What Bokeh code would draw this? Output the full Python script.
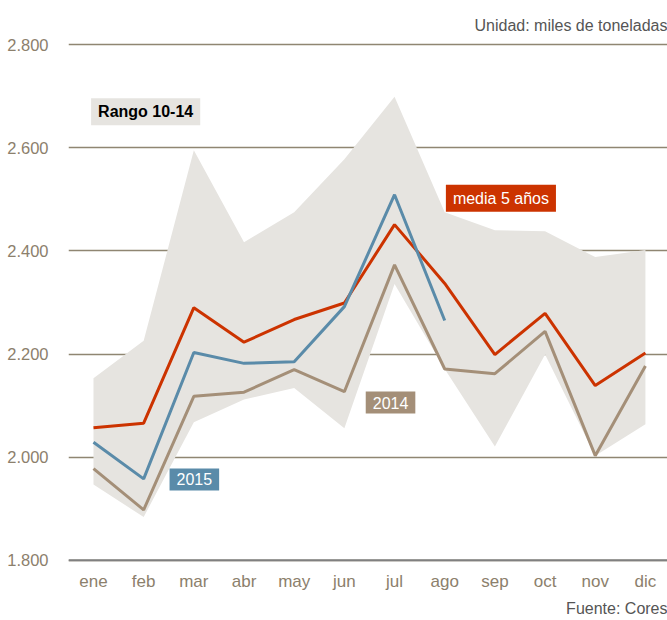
from bokeh.plotting import figure
from bokeh.models import Label, Span, Title, FixedTicker, CustomJSTickFormatter, Range1d
from bokeh.embed import file_html
from bokeh.resources import INLINE

months = ["ene", "feb", "mar", "abr", "may", "jun", "jul", "ago", "sep", "oct", "nov", "dic"]
media_5 = [2057, 2066, 2290, 2223, 2267, 2299, 2451, 2337, 2199, 2279, 2139, 2202]
y2015 = [2029, 1958, 2203, 2182, 2185, 2292, 2509, 2265]
y2014 = [1978, 1898, 2118, 2126, 2170, 2127, 2373, 2171, 2162, 2244, 2003, 2177]
rango_max = [2153, 2226, 2595, 2417, 2475, 2578, 2699, 2475, 2440, 2438, 2388, 2402]
rango_min = [1947, 1884, 2068, 2112, 2134, 2056, 2336, 2171, 2021, 2199, 2003, 2064]
y_ticks = [1800, 2000, 2200, 2400, 2600, 2800]

FONT = "Liberation Sans"
TICK_COLOR = "#8c806c"
GRID_COLOR = "#8f8672"
BAND = "#e6e4e0"
RED = "#cc3300"
BLUE = "#5a8ba9"
TAN = "#a48f78"

xs = list(range(len(months)))

p = figure(frame_width=599, frame_height=526, output_backend="svg", toolbar_location=None,
           x_range=Range1d(-0.498, 11.44), y_range=Range1d(1790, 2810),
           min_border_left=68, min_border_right=0, min_border_top=39, min_border_bottom=55)
p.outline_line_color = None
p.background_fill_color = "white"

p.varea(x=xs, y1=rango_min, y2=rango_max, fill_color=BAND)
p.line(xs, y2014, line_color=TAN, line_width=3)
p.line(xs, media_5, line_color=RED, line_width=3)
p.line(xs[:len(y2015)], y2015, line_color=BLUE, line_width=3)

# axes
p.yaxis.ticker = FixedTicker(ticks=y_ticks)
p.yaxis.formatter = CustomJSTickFormatter(code="return (tick/1000).toFixed(3);")
p.yaxis.axis_line_color = None
p.yaxis.major_tick_line_color = None
p.yaxis.minor_tick_line_color = None
p.yaxis.major_label_text_color = TICK_COLOR
p.yaxis.major_label_text_font = FONT
p.yaxis.major_label_text_font_size = "16.5px"
p.yaxis.major_label_standoff = 14

p.xaxis.ticker = FixedTicker(ticks=xs)
p.xaxis.major_label_overrides = {i: m for i, m in enumerate(months)}
p.xaxis.axis_line_color = None
p.xaxis.major_tick_line_color = None
p.xaxis.minor_tick_line_color = None
p.xaxis.major_label_text_color = TICK_COLOR
p.xaxis.major_label_text_font = FONT
p.xaxis.major_label_text_font_size = "17px"
p.xaxis.major_label_standoff = 0

p.xgrid.grid_line_color = None
p.ygrid.grid_line_color = GRID_COLOR
p.ygrid.grid_line_width = 1.5
p.ygrid.level = "underlay"

p.add_layout(Span(location=y_ticks[0], dimension="width", line_color="#808080", line_width=2))

for txt, x, y, bg, fg, bold in [
    ("Rango 10-14", 1.04, 2670, BAND, "black", True),
    ("media 5 años", 8.12, 2502, RED, "white", False),
    ("2014", 5.92, 2106, TAN, "white", False),
    ("2015", 2.01, 1957, BLUE, "white", False),
]:
    p.add_layout(Label(x=x, y=y, text=txt, text_align="center", text_baseline="middle",
                       text_font=FONT, text_font_size="16px", text_color=fg,
                       text_font_style="bold" if bold else "normal",
                       background_fill_color=bg,
                       padding=dict(left=7, right=7, top=5, bottom=5)))

p.add_layout(Title(text="Unidad: miles de toneladas", align="right", text_font=FONT,
                   text_font_size="16px", text_font_style="normal", text_color="#555555",
                   standoff=11), "above")
p.add_layout(Title(text="Fuente: Cores", align="right", text_font=FONT,
                   text_font_size="16px", text_font_style="normal", text_color="#555555",
                   standoff=8), "below")

open("out.html", "w").write(file_html(p, INLINE))
